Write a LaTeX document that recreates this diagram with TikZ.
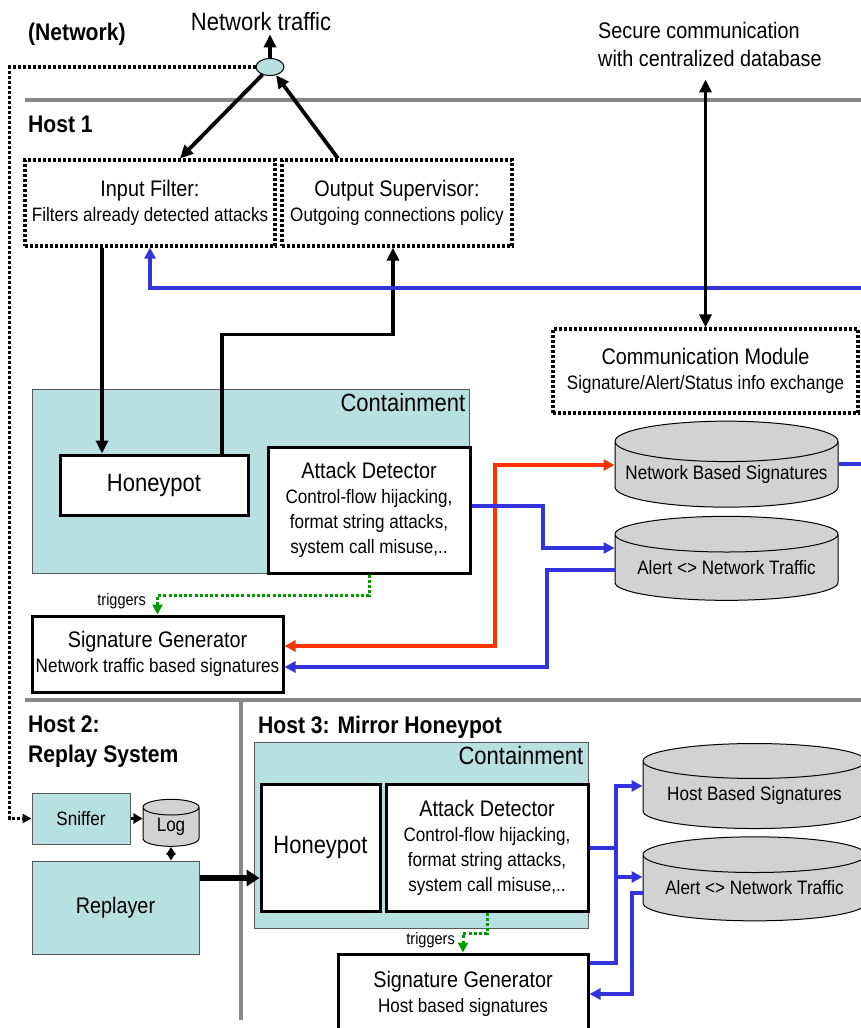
\documentclass[tikz,border=0pt]{standalone}
\usepackage{fontspec}
\setmainfont{Liberation Sans}[FakeStretch=0.88]
\usetikzlibrary{arrows.meta,shapes.geometric}
\definecolor{contfill}{RGB}{184,223,226}
\definecolor{dbfill}{RGB}{210,210,210}
\definecolor{sepgray}{RGB}{136,136,136}
\definecolor{arrblue}{RGB}{51,51,221}
\definecolor{arrred}{RGB}{255,51,0}
\definecolor{triggreen}{RGB}{0,153,0}
\newcommand{\hugefnt}{\fontsize{25}{30}\selectfont}
\newcommand{\titlefnt}{\fontsize{22.5}{26}\selectfont}
\newcommand{\notefnt}{\fontsize{19.4}{25}\selectfont}
\newcommand{\trigfnt}{\fontsize{16.5}{20}\selectfont}
\newcommand{\headfnt}{\fontsize{24}{30}\selectfont\bfseries}
\begin{document}
\begin{tikzpicture}[x=1pt,y=-1pt,
        box/.style={draw,line width=3pt,fill=white,inner sep=0pt,align=center,font=\notefnt},
        dotbox/.style={draw,line width=3.2pt,dash pattern=on 3pt off 2pt,inner sep=0pt,align=center,font=\notefnt},
        contain/.style={draw=black!65,line width=1pt,fill=contfill,inner sep=0pt,align=center},
        db/.style={cylinder,shape border rotate=90,aspect=0.2,draw,line width=1pt,fill=dbfill,inner sep=0pt,font=\notefnt},
        head/.style={anchor=north west,inner sep=0pt,align=left,font=\headfnt},
        sep/.style={sepgray,line width=3.2pt},
        arr/.style={line width=3.8pt,-{Triangle[length=13pt,width=12pt]}},
        dblarr/.style={line width=3.8pt,{Triangle[length=13pt,width=12pt]}-{Triangle[length=13pt,width=12pt]}},
        bluearr/.style={arrblue,line width=4pt,-{Triangle[length=11pt,width=11pt]}},
        redarr/.style={arrred,line width=4pt,{Triangle[length=11pt,width=11pt]}-{Triangle[length=11pt,width=11pt]}},
        dotarr/.style={line width=3.2pt,dash pattern=on 3pt off 2pt,-{Triangle[length=9pt,width=9pt]}},
        trigarr/.style={triggreen,line width=3pt,dash pattern=on 3pt off 2.2pt,-{Triangle[length=10pt,width=10pt]}}]
    \useasboundingbox (0,0) rectangle (860,1028);
    \draw[sep] (25,100) -- (862,100);
    \draw[sep] (25,700) -- (862,700);
    \draw[sep] (241,700) -- (241,1020);

    \node[head,anchor=west] (netlbl) at (28,34) {(Network)};
    \node[font=\hugefnt,inner sep=0pt] (nettxt) at (261,22) {Network traffic};
    \node[anchor=west,inner sep=0pt,align=left,font=\fontsize{22.5}{28}\selectfont] (sectxt) at (598,44) {Secure communication\\with centralized database};
    \node[ellipse,draw,line width=1pt,fill=contfill,minimum width=28pt,minimum height=17pt,inner sep=0pt] (netpt) at (270,67) {};
    \node[head] (host1) at (28,116) {Host 1};
    \node[head] (host2) at (28,716) {Host 2:\\Replay System};
    \node[head] (host3) at (258,716) {Host 3: Mirror Honeypot};

    \node[dotbox,minimum width=250pt,minimum height=86pt] (infilter) at (150,203) {{\titlefnt Input Filter:}\\Filters already detected attacks};
    \node[dotbox,minimum width=230pt,minimum height=86pt] (outsup) at (397,203) {{\titlefnt Output Supervisor:}\\Outgoing connections policy};
    \node[dotbox,minimum width=305pt,minimum height=84pt] (commmod) at (705.5,371) {{\titlefnt Communication Module}\\Signature/Alert/Status info exchange};

    \node[contain,minimum width=437pt,minimum height=184pt] (cont1) at (250.5,481) {};
    \node[anchor=east,inner sep=0pt,font=\hugefnt] (cont1lbl) at ([shift={(-4pt,-14pt)}]cont1.north east) {Containment};
    \node[box,minimum width=188pt,minimum height=60pt,font=\hugefnt] (hp1) at (154,485) {Honeypot};
    \node[box,minimum width=202pt,minimum height=126pt] (ad1) at (369,510) {{\titlefnt Attack Detector}\\Control-flow hijacking,\\format string attacks,\\system call misuse,..};
    \node[box,minimum width=251pt,minimum height=76pt] (sg1) at (157.5,654) {{\titlefnt Signature Generator}\\Network traffic based signatures};
    \node[db,minimum width=223pt,minimum height=86pt] (nbs) at (726.5,474.5) {Network Based Signatures};
    \node[db,minimum width=223pt,minimum height=84pt] (alert1) at (726.5,567.5) {Alert <> Network Traffic};
    \node[anchor=east,inner sep=0pt,font=\trigfnt] (trig1) at (146,601) {triggers};

    \node[contain,minimum width=98pt,minimum height=51pt,font=\notefnt] (sniffer) at (81,818.5) {Sniffer};
    \node[db,aspect=0.55,minimum width=56pt,minimum height=47pt] (log) at (171,827) {Log};
    \node[contain,minimum width=167pt,minimum height=93pt,font=\titlefnt] (replayer) at (115.5,907.5) {Replayer};
    \node[contain,minimum width=334pt,minimum height=186pt] (cont2) at (421,835) {};
    \node[anchor=east,inner sep=0pt,font=\hugefnt] (cont2lbl) at ([shift={(-5pt,-14pt)}]cont2.north east) {Containment};
    \node[box,minimum width=119pt,minimum height=127pt,font=\hugefnt] (hp2) at (320.5,847.5) {Honeypot};
    \node[box,minimum width=202pt,minimum height=127pt] (ad2) at (487,847.5) {{\titlefnt Attack Detector}\\Control-flow hijacking,\\format string attacks,\\system call misuse,..};
    \node[box,minimum width=250pt,minimum height=80pt] (sg2) at (463,994) {{\titlefnt Signature Generator}\\Host based signatures};
    \node[db,minimum width=223pt,minimum height=85pt] (hbs) at (754.5,795) {Host Based Signatures};
    \node[db,minimum width=223pt,minimum height=84pt] (alert2) at (754.5,888) {Alert <> Network Traffic};
    \node[anchor=east,inner sep=0pt,font=\trigfnt] (trig2) at (455,940) {triggers};
    \coordinate (bluein) at (862,288);

    \draw[arr,shorten >=3pt] (netpt.north) -- (netpt.north |- nettxt.south);
    \draw[arr] (netpt) -- ([xshift=30pt]infilter.north);
    \draw[arr] ([xshift=-59pt]outsup.north) -- (netpt);
    \draw[dotarr] (netpt.west) -| ([xshift=-22pt]sniffer.west) -- (sniffer.west);
    \draw[arr] ([xshift=-52pt]hp1.north |- infilter.south) -- ([xshift=-52pt]hp1.north);
    \draw[arr] ([xshift=68pt]hp1.north) -- ++(0,-119) -| ([xshift=-4pt]outsup.south);
    \draw[bluearr] (bluein) -| (infilter.south);
    \draw[dblarr,shorten >=13pt] (commmod.north) -- (commmod.north |- sectxt.south);
    \draw[redarr] ([yshift=8pt]sg1.east) -| ([shift={(-120pt,9.5pt)}]nbs.west) -- ([yshift=9.5pt]nbs.west);
    \draw[bluearr] ([yshift=4pt]ad1.east) -| ([shift={(-72pt,19.5pt)}]alert1.west) -- ([yshift=19.5pt]alert1.west);
    \draw[bluearr] ([yshift=-2.5pt]alert1.west) -| ([shift={(262pt,-13pt)}]sg1.east) -- ([yshift=-13pt]sg1.east);
    \draw[arrblue,line width=4pt] ([yshift=10.5pt]nbs.east) -- ++(30,0);
    \draw[trigarr] (ad1.south) -- ++(0,21) -| (sg1.north);

    \draw[line width=3.5pt,-{Triangle[length=9pt,width=10pt]}] (sniffer.east) -- (sniffer.east -| log.west);
    \draw[line width=3pt,{Triangle[length=8pt,width=9pt]}-{Triangle[length=8pt,width=9pt]}] (replayer.north -| log) -- (log);
    \draw[line width=6pt,-{Triangle[length=13pt,width=16pt]}] ([yshift=29.5pt]replayer.east) -- ([yshift=29.5pt]replayer.east -| hp2.west);
    \draw[trigarr] (ad2.south) -- ++(0,21) -| (sg2.north);
    \draw[arrblue,line width=4pt] (ad2.east) -- ++(28,0);
    \draw[bluearr] ([yshift=31pt]sg2.east) -| ([shift={(-27pt,9pt)}]hbs.west) -- ([yshift=9pt]hbs.west);
    \draw[bluearr] ([shift={(-27pt,11pt)}]alert2.west) -- ([yshift=11pt]alert2.west);
    \draw[bluearr] ([yshift=-5pt]alert2.west) -| ([xshift=42pt]sg2.east) -- (sg2.east);
\end{tikzpicture}
\end{document}
